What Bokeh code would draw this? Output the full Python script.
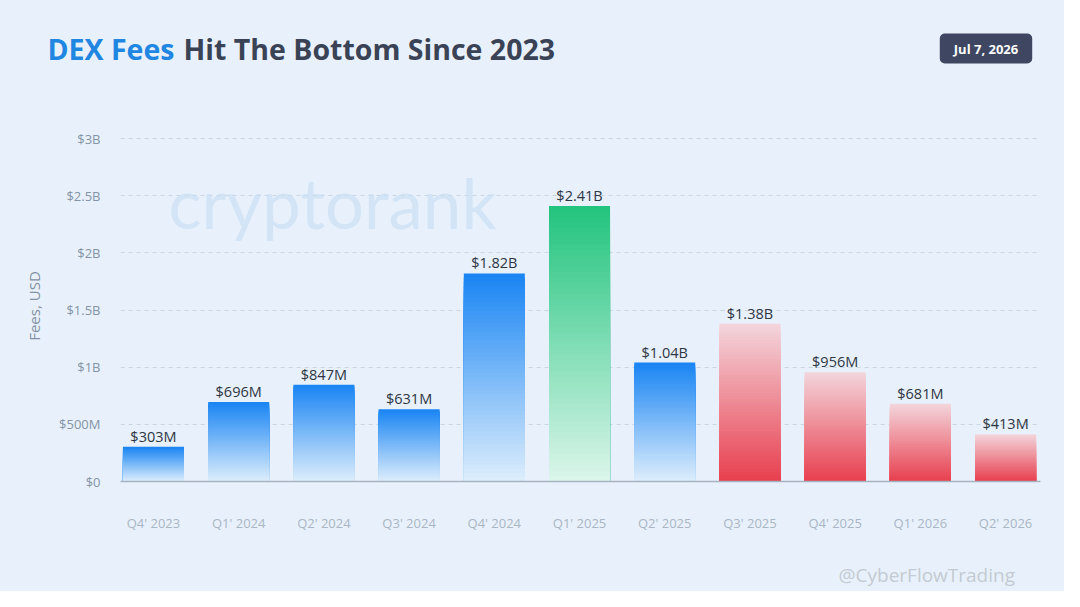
from bokeh.plotting import figure
from bokeh.layouts import column
from bokeh.models import Label, FixedTicker, Range1d, ColumnDataSource
from bokeh.embed import file_html
from bokeh.resources import INLINE
from bokeh.core.properties import value

# ---------------- data ----------------
quarters = ["Q4' 2023", "Q1' 2024", "Q2' 2024", "Q3' 2024", "Q4' 2024", "Q1' 2025",
            "Q2' 2025", "Q3' 2025", "Q4' 2025", "Q1' 2026", "Q2' 2026"]
fees_musd = [303, 696, 847, 631, 1820, 2410, 1040, 1380, 956, 681, 413]
value_labels = ["$303M", "$696M", "$847M", "$631M", "$1.82B", "$2.41B",
                "$1.04B", "$1.38B", "$956M", "$681M", "$413M"]
bar_groups = ["blue", "blue", "blue", "blue", "blue", "green",
              "blue", "red", "red", "red", "red"]
y_ticks = [0, 500, 1000, 1500, 2000, 2500, 3000]
y_tick_labels = ["$0", "$500M", "$1B", "$1.5B", "$2B", "$2.5B", "$3B"]

# gradient (bottom colour, top colour) for each group
gradients = {
    "blue": ((222, 238, 252), (24, 132, 243)),
    "green": ((220, 246, 235), (33, 195, 125)),
    "red": ((232, 62, 78), (243, 214, 220)),
}

BG = "#e8f1fb"
FONT = "Open Sans"
W = 1064


def bare(height):
    f = figure(width=W, height=height, output_backend="svg", toolbar_location=None,
               x_range=Range1d(0, W), y_range=Range1d(0, height),
               x_axis_type=None, y_axis_type=None, min_border=0, frame_align=False)
    f.background_fill_color = BG
    f.border_fill_color = BG
    f.outline_line_color = None
    f.grid.grid_line_color = None
    return f


# ---------------- header ----------------
head = bare(100)
head.add_layout(Label(x=47, y=52, text="DEX Fees", text_baseline="alphabetic",
                      text_font=FONT, text_font_style="bold", text_font_size="28.5px",
                      text_color="#1f86e2"))
head.add_layout(Label(x=183, y=52, text="Hit The Bottom Since 2023", text_baseline="alphabetic",
                      text_font=FONT, text_font_style="bold", text_font_size="28.5px",
                      text_color="#3a4356"))
head.add_layout(Label(x=985.5, y=52, text="Jul 7, 2026", text_align="center",
                      text_baseline="middle", text_font=FONT, text_font_style="bold",
                      text_font_size="13px", text_color="#ffffff",
                      background_fill_color="#3e4661", padding=(14, 6), border_radius=5))

# ---------------- main chart ----------------
p = figure(width=W, height=440, output_backend="svg", toolbar_location=None,
           x_range=Range1d(-0.387, 10.41), y_range=Range1d(0, 3070),
           min_border_left=120, min_border_right=24, min_border_top=30,
           min_border_bottom=59, frame_align=False)
p.background_fill_color = BG
p.border_fill_color = BG
p.outline_line_color = None

# watermark (position given in data units of the chart)
p.add_layout(Label(x=0.176, y=2440, text="cryptorank",
                   text_baseline="alphabetic", text_font="Lato", text_font_size="69px",
                   text_color="#c9def3", text_alpha=0.7, level="underlay"))

# gradient bars: nested quads from the bar bottom, tallest first
N = 50
width = 0.716
lefts, rights, bottoms, tops, colors = [], [], [], [], []
for i, (v, g) in enumerate(zip(fees_musd, bar_groups)):
    c0, c1 = gradients[g]
    for k in range(N - 1, -1, -1):
        t = (k + 0.5) / N
        col = tuple(int(round(c0[j] + (c1[j] - c0[j]) * t)) for j in range(3))
        lefts.append(i - width / 2)
        rights.append(i + width / 2)
        bottoms.append(0)
        tops.append(v * (k + 1) / N)
        colors.append("#%02x%02x%02x" % col)

src = ColumnDataSource(dict(left=lefts, right=rights, bottom=bottoms, top=tops, color=colors))
p.quad(left="left", right="right", bottom="bottom", top="top", source=src,
       fill_color="color", line_color=None)

lab_src = ColumnDataSource(dict(x=list(range(len(quarters))), y=fees_musd, text=value_labels))
p.text(x="x", y="y", text="text", source=lab_src, text_align="center",
       text_baseline="bottom", y_offset=-1, text_font=value(FONT),
       text_font_size="14.5px", text_color="#2e3643")

p.xaxis.ticker = FixedTicker(ticks=list(range(len(quarters))))
p.xaxis.major_label_overrides = {i: q for i, q in enumerate(quarters)}
p.xaxis.major_tick_line_color = None
p.xaxis.minor_tick_line_color = None
p.xaxis.axis_line_color = "#a7b2c0"
p.xaxis.axis_line_width = 1.5
p.xaxis.major_label_text_font = FONT
p.xaxis.major_label_text_font_size = "13px"
p.xaxis.major_label_text_color = "#a9b6c5"
p.xaxis.major_label_standoff = 26

p.yaxis.ticker = FixedTicker(ticks=y_ticks)
p.yaxis.major_label_overrides = {t: l for t, l in zip(y_ticks, y_tick_labels)}
p.yaxis.axis_line_color = None
p.yaxis.major_tick_line_color = None
p.yaxis.minor_tick_line_color = None
p.yaxis.major_label_text_font = FONT
p.yaxis.major_label_text_font_size = "13px"
p.yaxis.major_label_text_color = "#8494a6"
p.yaxis.major_label_standoff = 14
p.yaxis.axis_label = "Fees, USD"
p.yaxis.axis_label_text_font = FONT
p.yaxis.axis_label_text_font_style = "normal"
p.yaxis.axis_label_text_font_size = "15px"
p.yaxis.axis_label_text_color = "#8392a5"
p.yaxis.axis_label_standoff = 12

p.xgrid.grid_line_color = None
p.ygrid.grid_line_color = "#cad5e2"
p.ygrid.grid_line_dash = "4 4"
p.ygrid.grid_line_width = 1

# ---------------- footer ----------------
foot = bare(51)
foot.add_layout(Label(x=838, y=17, text="@CyberFlowTrading", text_baseline="alphabetic",
                      text_font=FONT, text_font_size="19px", text_color="#c4cad2"))

layout = column(head, p, foot, spacing=0, styles={"background-color": BG})
open("out.html", "w").write(file_html(layout, INLINE))
